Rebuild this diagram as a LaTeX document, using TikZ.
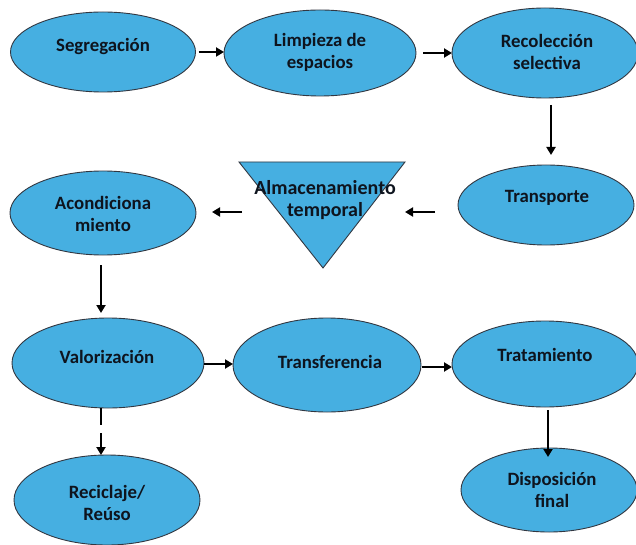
\documentclass[tikz,border=0pt]{standalone}
\usepackage{fontspec}
\setmainfont{Carlito}
\usetikzlibrary{shapes.geometric,arrows.meta}
\definecolor{blobfill}{RGB}{70,175,225}
\definecolor{blobline}{RGB}{50,55,65}
\definecolor{ink}{RGB}{14,20,30}
\begin{document}
\begin{tikzpicture}[x=1pt,y=-1pt,
  blob/.style={ellipse,draw=blobline,line width=0.9pt,fill=blobfill,inner sep=0pt,outer sep=0pt},
  lbl/.style={text=ink,font=\fontsize{18.8}{22}\selectfont\bfseries,align=center,inner sep=0pt},
  arr/.style={line width=2.8pt,draw=black,-{Triangle[length=8pt,width=9pt]}}]
\useasboundingbox (0,0) rectangle (636,545);

% process stages
\node[blob,minimum width=185pt,minimum height=80pt] (seg)    at (103,52)  {};
\node[blob,minimum width=192pt,minimum height=86pt] (limp)   at (320,53)  {};
\node[blob,minimum width=186pt,minimum height=90pt] (rec)    at (545,53)  {};
\node[blob,minimum width=176pt,minimum height=80pt] (trans)  at (546,205) {};
\node[blob,minimum width=186pt,minimum height=84pt] (acond)  at (103,213) {};
\node[blob,minimum width=192pt,minimum height=90pt] (valor)  at (108,363) {};
\node[blob,minimum width=188pt,minimum height=94pt] (transf) at (327,365) {};
\node[blob,minimum width=186pt,minimum height=86pt] (trat)   at (545,364) {};
\node[blob,minimum width=176pt,minimum height=84pt] (disp)   at (549,490) {};
\node[blob,minimum width=186pt,minimum height=90pt] (recic)  at (107,500) {};

% temporary storage (inverted triangle)
\draw[draw=blobline,line width=0.9pt,fill=blobfill] (239,162) -- (405,162) -- (323,268) -- cycle;
\coordinate (almE) at (405,212);
\coordinate (almW) at (242,212);

% labels
\node[lbl] (tseg)    at (103,47)  {Segregación};
\node[lbl] (tlimp)   at (320,52)  {Limpieza de\\espacios};
\node[lbl] (trec)    at (547,52)  {Recolección\\selectiva};
\node[lbl] (ttrans)  at (547,198) {Transporte};
\node[lbl,font=\fontsize{20}{22}\selectfont\bfseries] (talm) at (325,200) {Almacenamiento\\temporal};
\node[lbl] (tacond)  at (103,214) {Acondiciona\\miento};
\node[lbl] (tvalor)  at (107,357) {Valorización};
\node[lbl] (ttransf) at (330,362) {Transferencia};
\node[lbl] (ttrat)   at (545,355) {Tratamiento};
\node[lbl] (tdisp)   at (552,490) {Disposición\\final};
\node[lbl] (trecic)  at (107,503) {Reciclaje/\\Reúso};

% connectors
\draw[arr,shorten <=3pt] (seg.east) -- (seg.east -| limp.west);
\draw[arr,shorten <=7pt] (limp.east) -- (limp.east -| rec.west);
\draw[arr,shorten <=7pt,shorten >=10pt] ([xshift=6pt]rec.south) -- ([xshift=6pt]rec.south |- trans.north);
\draw[arr,shorten <=23pt] (trans.west |- almE) -- (almE);
\draw[arr,shorten >=16pt] (almW) -- (acond.east |- almW);
\draw[arr,shorten <=10pt,shorten >=5pt] ([xshift=-2pt]acond.south) -- ([xshift=-2pt]acond.south |- valor.north);
\draw[arr] ([yshift=-1pt]valor.east) -- ([yshift=-1pt]valor.east -| transf.west);
\draw[arr,shorten <=1pt] ([yshift=-2pt]transf.east) -- ([yshift=-2pt]transf.east -| trat.west);
\draw[arr,shorten <=3pt,shorten >=-9pt] ([xshift=3pt]trat.south) -- ([xshift=3pt]trat.south |- disp.north);
\draw[arr,dash pattern=on 17pt off 8pt on 40pt] ([xshift=-7pt]valor.south) -- ([xshift=-7pt]valor.south |- recic.north);
\end{tikzpicture}
\end{document}
